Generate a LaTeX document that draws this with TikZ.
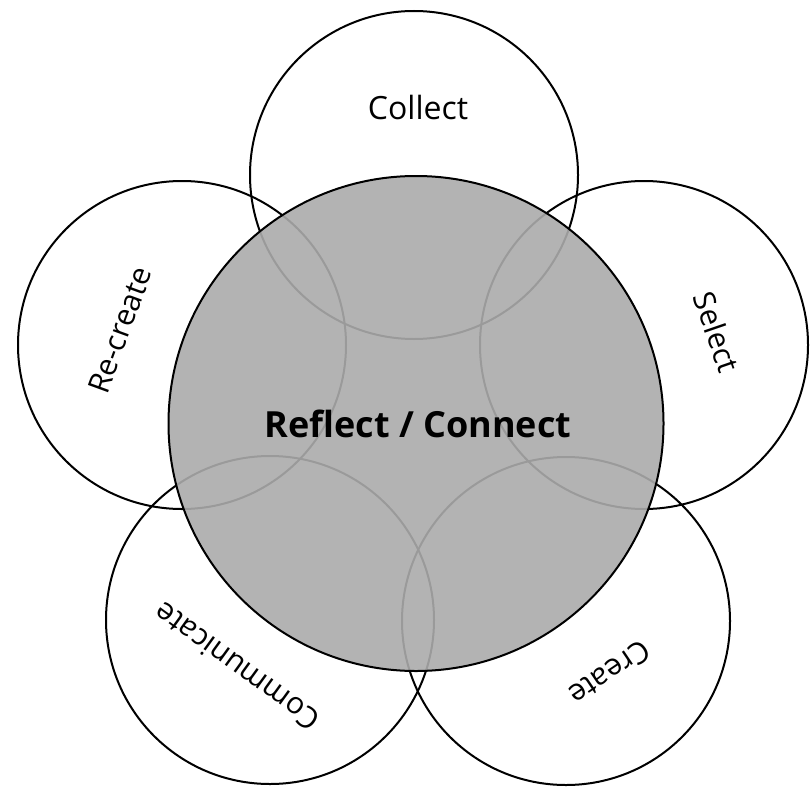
\documentclass[tikz,border=0pt]{standalone}
\usepackage{fontspec}
\setmainfont{Open Sans}
\begin{document}
\begin{tikzpicture}[x=1pt,y=-1pt,
  petal/.style={draw=black,line width=2pt},
  core/.style={fill=black!33,fill opacity=0.9,draw=none},
  coreline/.style={draw=black,line width=2pt},
  lbl/.style={font=\fontsize{30}{34}\selectfont,inner sep=0pt},
  mainlbl/.style={font=\fontsize{36}{40}\selectfont\bfseries,inner sep=0pt}]
\useasboundingbox (0,0) rectangle (810,789);
% outer circles (white fills first, then outlines)
\foreach \p in {(414,175),(644,345),(566,621),(270,620),(182,345)}
  \fill[white] \p circle (164);
\draw[petal] (414,175) circle (164);
\draw[petal] (644,345) circle (164);
\draw[petal] (566,621) circle (164);
\draw[petal] (270,620) circle (164);
\draw[petal] (182,345) circle (164);
% central circle
\path[core] (416,423.5) circle (247.5);
\draw[coreline] (416,423.5) circle (247.5);
% labels
\node[lbl,font=\fontsize{32}{36}\selectfont] (collect) at (418,107) {Collect};
\node[lbl,rotate=-71] (select) at (717,332) {Select};
\node[lbl,rotate=-146] (create) at (610,673) {Create};
\node[lbl,rotate=144] (communicate) at (237,667) {Communicate};
\node[lbl,rotate=70] (recreate) at (120,330) {Re-create};
\node[mainlbl] (center) at (418,424) {Reflect / Connect};
\end{tikzpicture}
\end{document}
